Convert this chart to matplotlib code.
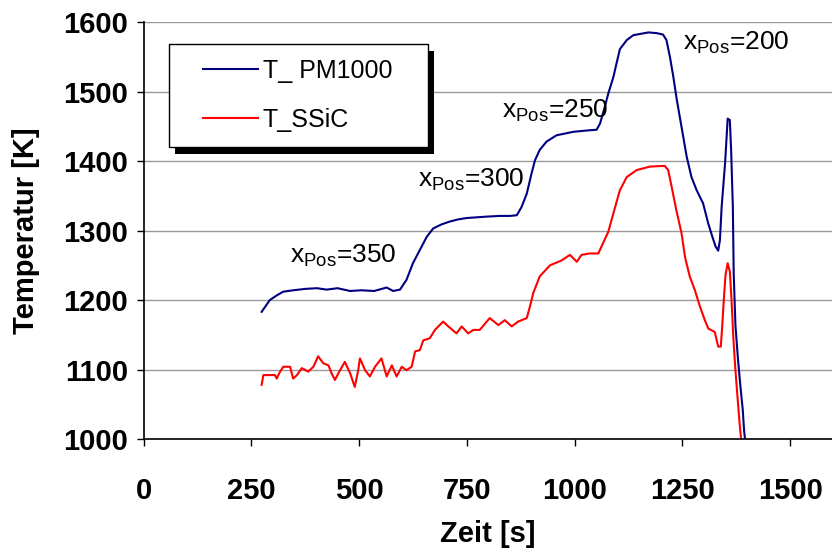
import numpy as np
import matplotlib.pyplot as plt
from matplotlib.patches import Rectangle
from matplotlib.legend_handler import HandlerLine2D

plt.rcParams['font.family'] = ['Liberation Sans', 'DejaVu Sans']
plt.rcParams['mathtext.fontset'] = 'custom'
plt.rcParams['mathtext.rm'] = 'Liberation Sans'

# T_ PM1000 (blau)
zeit_pm = [274, 293, 310, 324, 347, 375, 402, 425, 450, 479, 505, 535, 564, 579, 595,
           610, 625, 641, 657, 672, 692, 711, 730, 750, 773, 796, 827, 850, 866, 877,
           889, 900, 908, 919, 935, 958, 997, 1030, 1051, 1059, 1070, 1078, 1090, 1097,
           1105, 1121, 1136, 1171, 1190, 1205, 1213, 1221, 1229, 1237, 1248, 1260, 1271,
           1283, 1298, 1310, 1320, 1327, 1333, 1337, 1341, 1349, 1355, 1360, 1363, 1367,
           1369, 1373, 1379, 1385, 1390, 1393, 1396]
temp_pm = [1183, 1200, 1207, 1212, 1214, 1216, 1217, 1215, 1217, 1213, 1214, 1213, 1218,
           1213, 1215, 1229, 1253, 1272, 1291, 1303, 1309, 1313, 1316, 1318, 1319, 1320,
           1321, 1321, 1322, 1334, 1353, 1382, 1401, 1416, 1428, 1437, 1442, 1444, 1445,
           1454, 1478, 1497, 1521, 1540, 1561, 1574, 1581, 1585, 1584, 1582, 1574, 1550,
           1521, 1488, 1449, 1406, 1377, 1358, 1339, 1310, 1290, 1277, 1271, 1286, 1334,
           1397, 1461, 1459, 1416, 1334, 1238, 1164, 1114, 1073, 1042, 1013, 995]

# T_SSiC (rot)
zeit_ssic = [274, 278, 305, 309, 315, 324, 340, 347, 356, 367, 382, 394, 405, 417, 429,
             436, 444, 455, 467, 479, 490, 498, 502, 514, 525, 537, 552, 564, 576, 587,
             599, 610, 622, 630, 641, 649, 664, 676, 695, 707, 726, 738, 753, 765, 780,
             803, 823, 838, 854, 869, 889, 896, 904, 919, 943, 970, 989, 1005, 1016, 1035,
             1055, 1066, 1078, 1090, 1105, 1121, 1144, 1175, 1209, 1217, 1225, 1236, 1248,
             1256, 1267, 1279, 1291, 1302, 1310, 1325, 1333, 1339, 1342, 1346, 1350, 1355,
             1360, 1364, 1368, 1373, 1378, 1383, 1387]
temp_ssic = [1078, 1092, 1092, 1087, 1095, 1104, 1104, 1087, 1092, 1102, 1097, 1104, 1119,
             1109, 1106, 1095, 1085, 1098, 1111, 1095, 1075, 1099, 1116, 1099, 1090, 1104,
             1116, 1090, 1106, 1090, 1104, 1099, 1104, 1126, 1128, 1142, 1145, 1157, 1169,
             1162, 1152, 1162, 1152, 1157, 1157, 1174, 1164, 1171, 1162, 1169, 1174, 1190,
             1210, 1234, 1250, 1257, 1265, 1255, 1265, 1267, 1267, 1282, 1298, 1325, 1358,
             1377, 1387, 1392, 1393, 1387, 1363, 1329, 1296, 1262, 1234, 1214, 1190, 1171,
             1159, 1154, 1133, 1133, 1159, 1200, 1236, 1253, 1241, 1200, 1147, 1099, 1059,
             1020, 995]

# Beschriftungen der Positionen
pos_text = ['350', '300', '250', '200']
pos_x = [340, 637, 831, 1251]
pos_y = [1263, 1373, 1473, 1570]

fig = plt.figure(figsize=(8.32, 5.57), dpi=100)
ax = fig.add_axes([0.1725, 0.2118, 0.8275, 0.7487])

ax.plot(zeit_pm, temp_pm, color='#000080', lw=1.5, label='T_ PM1000   ')
ax.plot(zeit_ssic, temp_ssic, color='#ff0000', lw=1.5, label='T_SSiC')

for t, x, y in zip(pos_text, pos_x, pos_y):
    ax.text(x, y, r'x$_\mathrm{Pos}$=' + t, fontsize=19, ha='left', va='center')

ax.set_xlim(0, 1597)
ax.set_ylim(1000, 1600)
ax.set_xticks(np.arange(0, 1501, 250))
ax.set_yticks(np.arange(1000, 1601, 100))
ax.yaxis.grid(True, color='#999999', lw=1)
ax.set_axisbelow(True)
for s in ['top', 'right']:
    ax.spines[s].set_visible(False)
ax.spines['left'].set_linewidth(1.2)
ax.spines['bottom'].set_linewidth(1.2)
ax.tick_params(direction='out', length=5, width=1, labelsize=21, pad=6)
ax.tick_params(axis='x', pad=22)
for lab in ax.get_xticklabels() + ax.get_yticklabels():
    lab.set_fontweight('bold')

ax.set_xlabel('Zeit [s]', fontsize=21, fontweight='bold', labelpad=11)
ax.set_ylabel('Temperatur [K]', fontsize=21, fontweight='bold', labelpad=17)

leg = ax.legend(loc='upper left', bbox_to_anchor=(0.037, 0.947), fontsize=18,
                fancybox=False, edgecolor='black', framealpha=1,
                handlelength=2.95, handletextpad=0.2, borderpad=0.6,
                labelspacing=1.0, borderaxespad=0,
                handler_map={plt.Line2D: HandlerLine2D(xpad=0.75)})
leg.get_frame().set_linewidth(1)

# schwarzer Schatten hinter der Legende
fig.canvas.draw()
bb = leg.get_window_extent()
shadow = Rectangle((bb.x0 + 6, bb.y0 - 7), bb.width, bb.height,
                   transform=None, facecolor='black', edgecolor='none', zorder=4.9)
ax.add_artist(shadow)

fig.savefig('out.png', dpi=100)
